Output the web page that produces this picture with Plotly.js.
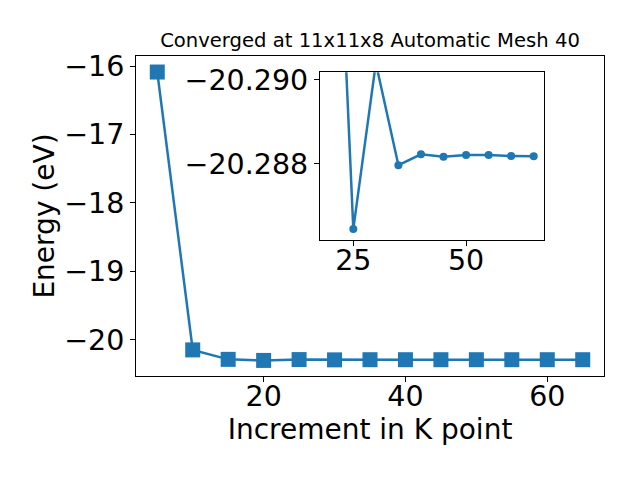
<!DOCTYPE html>
<html>
<head>
<meta charset="utf-8">
<script src="https://cdn.plot.ly/plotly-3.0.1.min.js"></script>
<style>html,body{margin:0;padding:0;background:#fff;}#chart{width:640px;height:480px;}</style>
</head>
<body>
<div id="chart"></div>
<script>
// Data
const kpoints = [5, 10, 15, 20, 25, 30, 35, 40, 45, 50, 55, 60, 65];
const energy = [-16.088, -20.145, -20.283, -20.2985, -20.28645, -20.2904, -20.28797,
                -20.28823, -20.28817, -20.28821, -20.28821, -20.28819, -20.28818];
const insetStart = 3; // inset plots from k = 20 onward
const titleText = "Converged at 11x11x8 Automatic Mesh 40";
const xLabel = "Increment in K point";
const yLabel = "Energy (eV)";
const mainXTicks = [20, 40, 60];
const mainYTicks = [-20, -19, -18, -17, -16];
const insetXTicks = [25, 50];
const insetYTicks = [-20.290, -20.288];

const blue = "#1f77b4";
const font = "DejaVu Sans, sans-serif";

const traces = [
  {
    x: kpoints, y: energy, type: "scatter", mode: "lines+markers",
    line: {color: blue, width: 2.5},
    marker: {symbol: "square", size: 15, color: blue},
    xaxis: "x", yaxis: "y", hoverinfo: "skip"
  },
  {
    x: kpoints.slice(insetStart), y: energy.slice(insetStart), type: "scatter", mode: "lines+markers",
    line: {color: blue, width: 2.5},
    marker: {symbol: "circle", size: 8, color: blue},
    xaxis: "x2", yaxis: "y2", hoverinfo: "skip"
  }
];

const axisCommon = {
  showline: true, linecolor: "#000", linewidth: 1, mirror: true,
  ticks: "outside", ticklen: 5, tickwidth: 1, tickcolor: "#000",
  showgrid: false, zeroline: false,
  tickfont: {family: font, size: 28.5, color: "#000"}
};

const layout = {
  width: 640, height: 480,
  margin: {l: 136, r: 36, t: 56, b: 104},
  paper_bgcolor: "#fff", plot_bgcolor: "#fff",
  showlegend: false,
  font: {family: font, color: "#000"},
  title: {
    text: titleText, font: {family: font, size: 19.6, color: "#000"},
    x: 0.5, xref: "paper", xanchor: "center",
    y: 1, yref: "paper", yanchor: "bottom", pad: {b: 9}
  },
  xaxis: Object.assign({}, axisCommon, {
    domain: [0, 1], range: [2, 68], tickvals: mainXTicks, ticklabelstandoff: -10,
    title: {text: xLabel, font: {family: font, size: 28, color: "#000"}, standoff: 0}
  }),
  yaxis: Object.assign({}, axisCommon, {
    domain: [0, 1], range: [-20.526, -15.854], tickvals: mainYTicks,
    title: {text: yLabel, font: {family: font, size: 28, color: "#000"}, standoff: 1}
  }),
  xaxis2: Object.assign({}, axisCommon, {
    domain: [0.393, 0.872], anchor: "y2", range: [17.6, 67.3], tickvals: insetXTicks,
    ticklabelstandoff: -10
  }),
  yaxis2: Object.assign({}, axisCommon, {
    domain: [0.425, 0.949], anchor: "x2", range: [-20.28619, -20.29018],
    tickvals: insetYTicks, tickformat: ".3f"
  })
};

Plotly.newPlot("chart", traces, layout, {staticPlot: true, displayModeBar: false});
</script>
</body>
</html>
